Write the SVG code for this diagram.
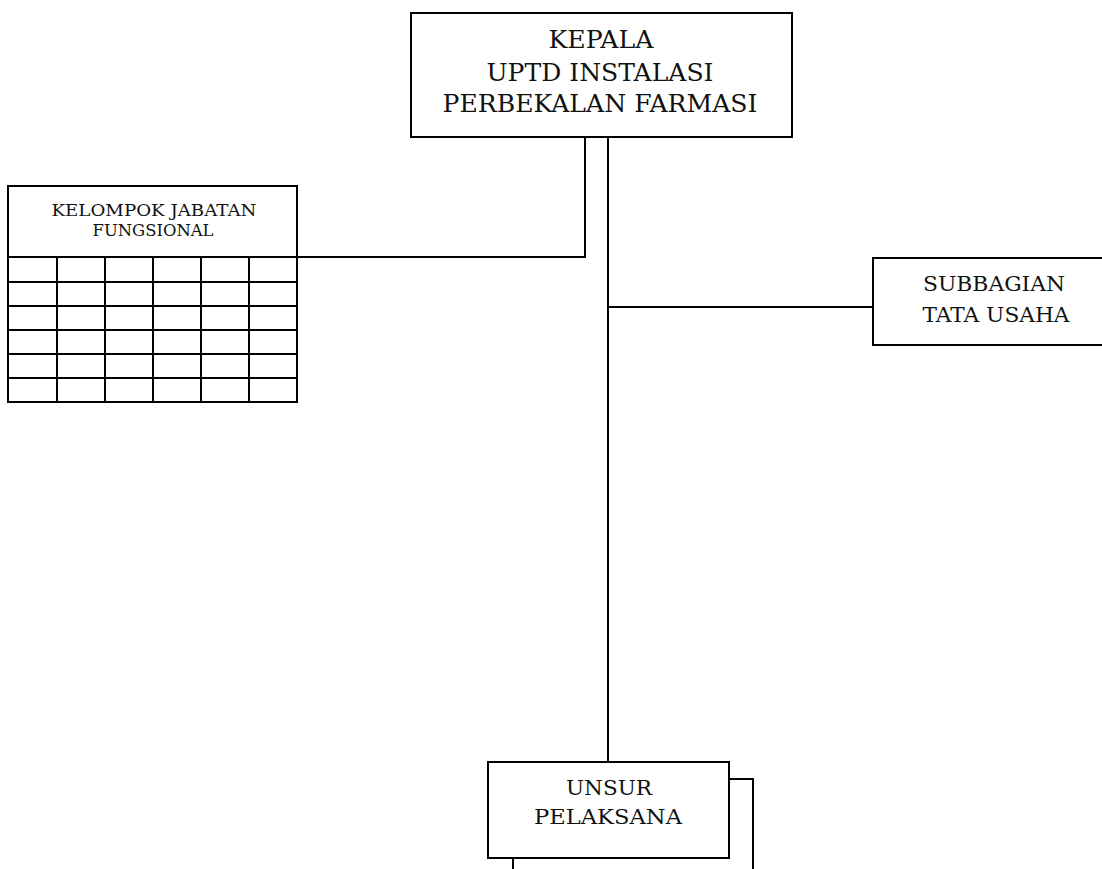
<svg xmlns="http://www.w3.org/2000/svg" width="1102" height="869" viewBox="0 0 1102 869">
<style>
.box{fill:#fff;stroke:#000;stroke-width:2}
.ln{fill:none;stroke:#000;stroke-width:2}
.t{font-family:"DejaVu Serif","Liberation Serif",serif;fill:#111;text-anchor:middle}
</style>
<rect width="1102" height="869" fill="#fff"/>
<g id="connectors">
<path class="ln" d="M585,137 V257 H297"/>
<path class="ln" d="M608,137 V762"/>
<path class="ln" d="M608,307 H873"/>
<path class="ln" d="M729,779 H753 V869"/>
<path class="ln" d="M513,858 V869"/>
</g>
<g id="kepala">
<rect class="box" x="411" y="13" width="381" height="124"/>
<text class="t" font-size="24" x="601" y="48" textLength="105" lengthAdjust="spacingAndGlyphs">KEPALA</text>
<text class="t" font-size="24" x="600" y="81" textLength="227" lengthAdjust="spacingAndGlyphs">UPTD INSTALASI</text>
<text class="t" font-size="24" x="600" y="112" textLength="315" lengthAdjust="spacingAndGlyphs">PERBEKALAN FARMASI</text>
</g>
<g id="kjf">
<rect class="box" x="8" y="186" width="289" height="71"/>
<text class="t" font-size="17" x="154" y="216" textLength="205" lengthAdjust="spacingAndGlyphs">KELOMPOK JABATAN</text>
<text class="t" font-size="17" x="153" y="236" textLength="121" lengthAdjust="spacingAndGlyphs">FUNGSIONAL</text>
<path class="ln" d="M8,257 H297 V402 H8 Z M8,282 H297 M8,306 H297 M8,330 H297 M8,354 H297 M8,378 H297 M57,257 V402 M105,257 V402 M153,257 V402 M201,257 V402 M249,257 V402"/>
</g>
<g id="subbagian">
<rect class="box" x="873" y="258" width="232" height="87"/>
<text class="t" font-size="20" x="994" y="291" textLength="142" lengthAdjust="spacingAndGlyphs">SUBBAGIAN</text>
<text class="t" font-size="20" x="996" y="322" textLength="147" lengthAdjust="spacingAndGlyphs">TATA USAHA</text>
</g>
<g id="unsur">
<rect class="box" x="488" y="762" width="241" height="96"/>
<text class="t" font-size="20" x="609" y="795" textLength="86" lengthAdjust="spacingAndGlyphs">UNSUR</text>
<text class="t" font-size="20" x="608" y="824" textLength="148" lengthAdjust="spacingAndGlyphs">PELAKSANA</text>
</g>
</svg>
